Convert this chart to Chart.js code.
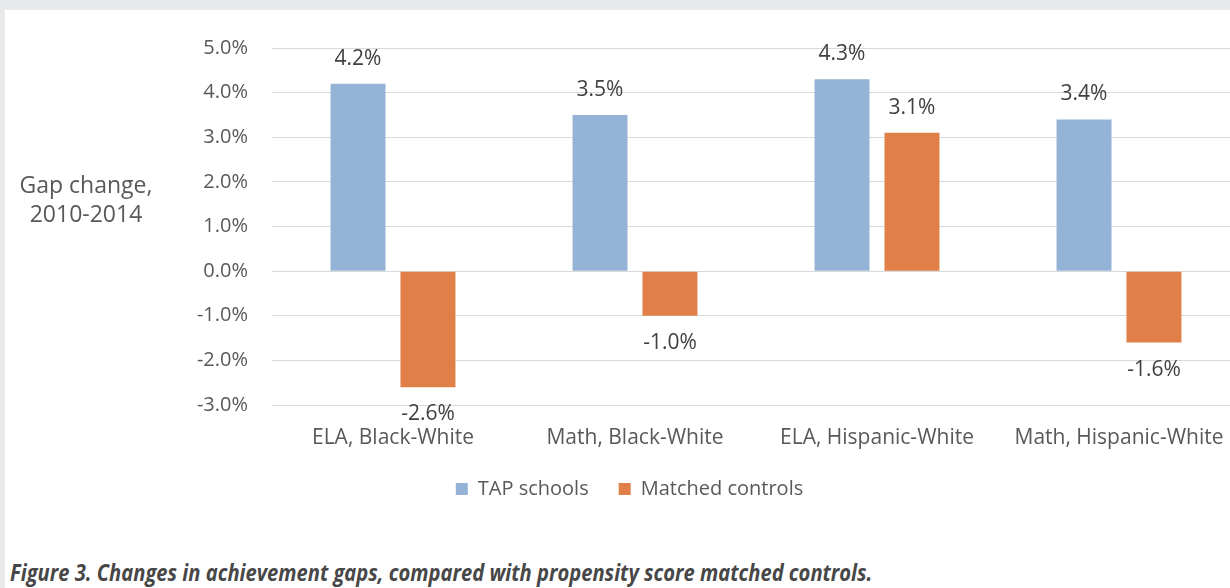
<!DOCTYPE html>
<html>
<head>
<meta charset="utf-8">
<script src="https://cdn.jsdelivr.net/npm/chart.js@4"></script>
<style>
  html, body { margin: 0; padding: 0; }
  body { width: 1230px; height: 588px; overflow: hidden; background: #e8e9eb; position: relative; }
  #panel { position: absolute; left: 5px; top: 10px; width: 1225px; height: 578px; background: #fff; }
  #wrap { position: absolute; left: 0; top: 0; width: 1240px; height: 520px; }
  #caption {
    position: absolute; left: 10px; top: 556px; white-space: nowrap;
    font-family: "Open Sans", sans-serif; font-weight: 700; font-style: italic;
    font-size: 23px; color: #474747; transform-origin: 0 0;
  }
</style>
</head>
<body>
<div id="panel"></div>
<div id="wrap"><canvas id="gaps" width="1240" height="520"></canvas></div>
<div id="caption">Figure 3. Changes in achievement gaps, compared with propensity score matched controls.</div>
<script>
// gap change 2010-2014, in percentage points
const categories = ['ELA, Black-White', 'Math, Black-White', 'ELA, Hispanic-White', 'Math, Hispanic-White'];
const tapSchools = [4.2, 3.5, 4.3, 3.4];
const matchedControls = [-2.6, -1.0, 3.1, -1.6];
const yTicks = [5, 4, 3, 2, 1, 0, -1, -2, -3];

const FONT = '"Open Sans", Lato, sans-serif';

// squeeze the caption to the width of the figure
const cap = document.getElementById('caption');
cap.style.transform = 'scaleX(' + (862 / cap.offsetWidth) + ')';

// value labels above / below each bar + the horizontal y title
const barLabels = {
  id: 'barLabels',
  afterDatasetsDraw(chart) {
    const c = chart.ctx;
    c.save();
    c.font = '21px ' + FONT;
    c.fillStyle = '#404040';
    c.textAlign = 'center';
    c.textBaseline = 'middle';
    chart.data.datasets.forEach((ds, i) => {
      chart.getDatasetMeta(i).data.forEach((bar, j) => {
        const v = ds.data[j];
        const y = v >= 0 ? bar.y - 25 : bar.y + 27;
        c.fillText(v.toFixed(1) + '%', bar.x, y);
      });
    });
    c.fillStyle = '#595959';
    c.font = '23px ' + FONT;
    c.fillText('Gap change,', 86, 186);
    c.fillText('2010-2014', 86, 215);
    c.restore();
  }
};

new Chart(document.getElementById('gaps').getContext('2d'), {
  type: 'bar',
  data: {
    labels: categories,
    datasets: [
      { label: 'TAP schools', data: tapSchools, backgroundColor: '#95b3d6' },
      { label: 'Matched controls', data: matchedControls, backgroundColor: '#e07f47' }
    ]
  },
  options: {
    responsive: false,
    animation: false,
    layout: { padding: { top: 48, left: 19, right: 0, bottom: 11 } },
    datasets: { bar: { categoryPercentage: 0.578, barPercentage: 0.786 } },
    plugins: {
      tooltip: { enabled: false },
      legend: {
        position: 'bottom',
        labels: {
          boxWidth: 12, boxHeight: 12, padding: 30,
          color: '#595959', font: { family: FONT, size: 20 }
        }
      }
    },
    scales: {
      x: {
        grid: { display: false },
        border: { display: false },
        ticks: { color: '#595959', padding: 12, maxRotation: 0, font: { family: FONT, size: 21 } },
        afterFit(scale) {
          scale.height = 44;
          // labels hang a little below the short axis box, don't clip them
          scale._computeLabelArea = () => undefined;
        }
      },
      y: {
        min: -3, max: 5,
        afterBuildTicks(scale) { scale.ticks = yTicks.map(v => ({ value: v })); },
        grid: { color: '#d9d9d9', lineWidth: 1, drawTicks: false },
        border: { display: false },
        ticks: {
          color: '#595959', padding: 24, font: { family: FONT, size: 20 },
          callback: v => v.toFixed(1) + '%'
        },
        afterFit(scale) { scale.width = 253; }
      }
    }
  },
  plugins: [barLabels]
});
</script>
</body>
</html>
